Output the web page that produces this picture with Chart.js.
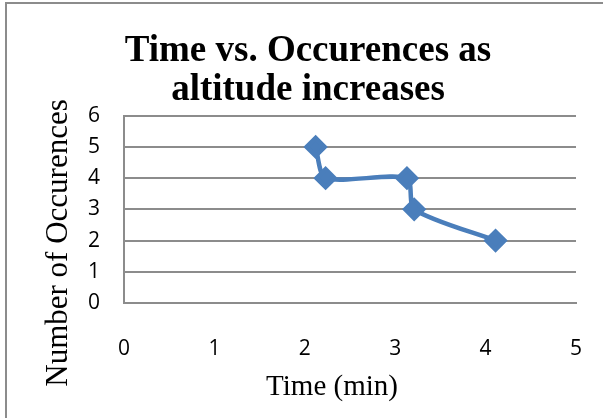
<!DOCTYPE html>
<html>
<head>
<meta charset="utf-8">
<script src="https://cdn.jsdelivr.net/npm/chart.js@4/dist/chart.umd.min.js"></script>
<style>
  html, body { margin: 0; padding: 0; background: #fff; }
  #wrap { width: 603px; height: 418px; position: relative; }
</style>
</head>
<body>
<div id="wrap"><canvas id="grafico" width="603" height="418"></canvas></div>
<script>
// dados
const tempos = [2.12, 2.23, 3.13, 3.21, 4.11];
const ocorrencias = [5, 4, 4, 3, 2];
const xTicks = [0, 1, 2, 3, 4, 5];
const yTicks = [0, 1, 2, 3, 4, 5, 6];
const tituloX = 'Time (min)';
const tituloY = 'Number of Occurences';

const pontos = tempos.map((t, i) => ({ x: t, y: ocorrencias[i] }));

// moldura cinza (topo e esquerda) + títulos dos eixos
const moldura = {
  id: 'moldura',
  afterDraw(chart) {
    const ctx = chart.ctx;
    ctx.save();
    ctx.strokeStyle = '#8c8c8c';
    ctx.lineWidth = 2;
    ctx.beginPath();
    ctx.moveTo(6, 418);
    ctx.lineTo(6, 3);
    ctx.lineTo(603, 3);
    ctx.stroke();

    ctx.fillStyle = '#000';
    ctx.font = '29px "Liberation Serif"';
    ctx.textAlign = 'center';
    ctx.textBaseline = 'alphabetic';
    ctx.fillText(tituloX, 332, 395);

    ctx.translate(67, 243);
    ctx.rotate(-Math.PI / 2);
    ctx.font = '31px "Liberation Serif"';
    ctx.fillText(tituloY, 0, 0);
    ctx.restore();
  }
};

const ctx = document.getElementById('grafico').getContext('2d');

const chart = new Chart(ctx, {
  type: 'scatter',
  data: {
    datasets: [{
      data: pontos,
      showLine: true,
      borderColor: '#4a7ebb',
      backgroundColor: '#4a7ebb',
      borderWidth: 4.5,
      tension: 0.25,
      pointStyle: 'rectRot',
      pointRadius: 9,
      pointHoverRadius: 9
    }]
  },
  options: {
    responsive: false,
    animation: false,
    layout: { padding: { left: 40, right: 27, top: 0, bottom: 0 } },
    plugins: {
      legend: { display: false },
      tooltip: { enabled: false },
      title: {
        display: true,
        text: ['Time vs. Occurences as', 'altitude increases'],
        color: '#000',
        font: { family: 'Liberation Serif', size: 37, weight: 'bold', lineHeight: 1.05 },
        padding: { top: 32, bottom: 6 }
      }
    },
    scales: {
      x: {
        type: 'linear',
        min: 0,
        max: 5,
        afterBuildTicks(scale) { scale.ticks = xTicks.map(v => ({ value: v })); },
        afterFit(scale) { scale.height = 115; },
        // sem grade vertical; tickLength só empurra os rótulos para baixo
        grid: { display: false, drawTicks: true, tickLength: 28 },
        border: { display: true, color: '#8c8c8c', width: 2 },
        ticks: { color: '#000', padding: 5, font: { family: 'Open Sans', size: 21 } }
      },
      y: {
        min: 0,
        max: 6,
        afterBuildTicks(scale) { scale.ticks = yTicks.map(v => ({ value: v })); },
        afterFit(scale) { scale.width = 84; },
        grid: { color: '#8c8c8c', lineWidth: 2, drawTicks: false },
        border: { display: true, color: '#8c8c8c', width: 2 },
        ticks: { color: '#000', padding: 24, font: { family: 'Open Sans', size: 21 } }
      }
    }
  },
  plugins: [moldura]
});
</script>
</body>
</html>
